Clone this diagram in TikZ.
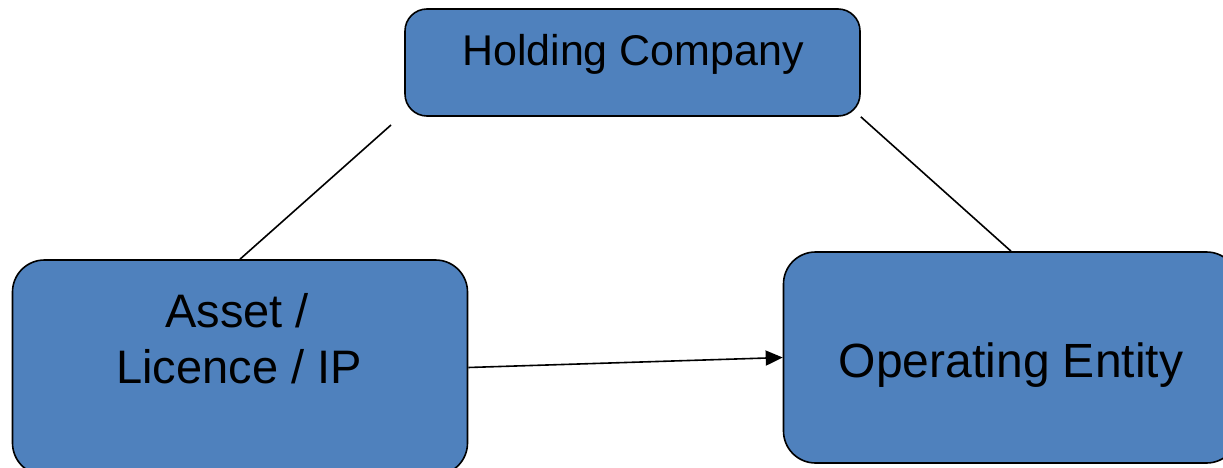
\documentclass[tikz,border=0pt]{standalone}
\usepackage{fontspec}
\setmainfont{Liberation Sans}
\usetikzlibrary{arrows.meta}
\definecolor{boxblue}{HTML}{4F81BD}

\begin{document}
\begin{tikzpicture}[x=1pt,y=-1pt,
    box/.style={draw=black, line width=1.6pt, fill=boxblue, inner sep=0pt, minimum width=455pt},
    txt/.style={anchor=base, inner sep=0pt},
    link/.style={line width=1.6pt}]
%frame of the page, in pixels, y going down
    \useasboundingbox (0,0) rectangle (1223,468);

    \node[box, minimum height=107pt, rounded corners=22pt] (Hold) at (632.5,62.5) {};
    \node[box, minimum height=215pt, rounded corners=32pt] (Asset) at (240,367.5) {};
    \node[box, minimum height=211pt, rounded corners=32pt] (OpEnt) at (1011,357.5) {};

    \node[txt, font=\fontsize{43}{52}\selectfont] (HoldText) at (633,66) {Holding Company};
    \node[txt, font=\fontsize{47}{56}\selectfont] (AssetTextA) at (237,327) {Asset /};
    \node[txt, font=\fontsize{47}{56}\selectfont] (AssetTextB) at (239,383) {Licence / IP};
    \node[txt, font=\fontsize{48}{58}\selectfont] (OpEntText) at (1011,377) {Operating Entity};

    \coordinate (HoldFoot) at (391,125);

    \draw[link] (HoldFoot) -- (Asset.north);
    \draw[link] (Hold.south east) -- (OpEnt.north);

    \draw[link, -{Triangle[length=17pt, width=15pt]}] (Asset.east) -- (OpEnt.west);

\end{tikzpicture}
\end{document}
